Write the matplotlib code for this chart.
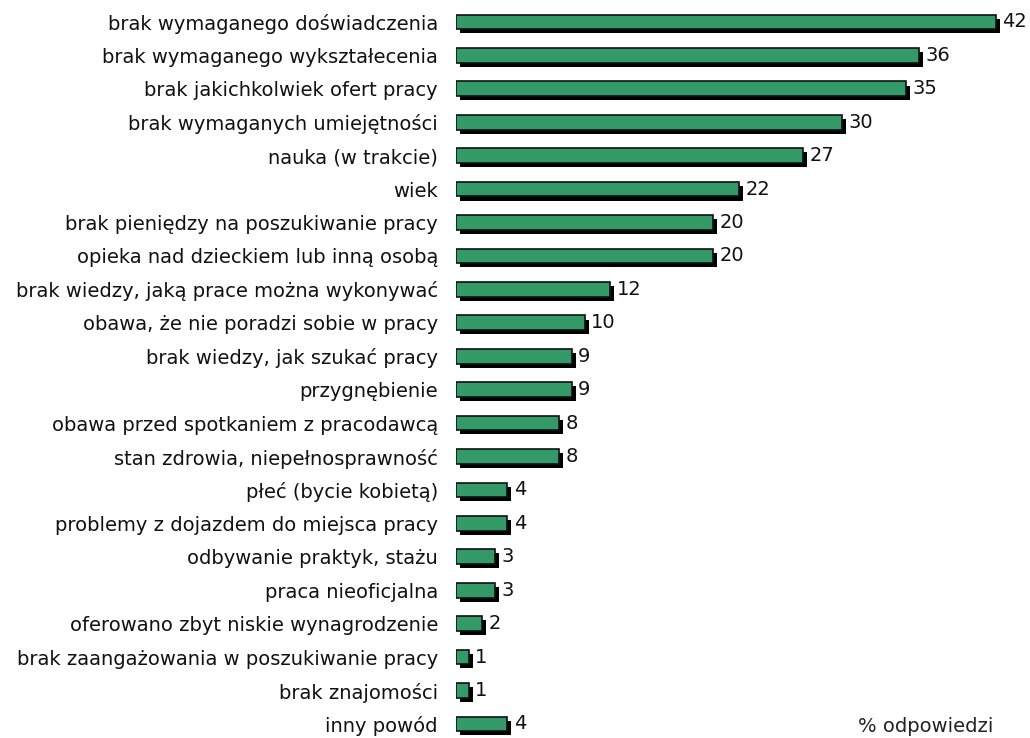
import matplotlib
matplotlib.use("Agg")
import matplotlib.pyplot as plt
import matplotlib.patheffects as pe

# reasons and share of answers (%)
reasons = [
    "brak wymaganego doświadczenia",
    "brak wymaganego wykształecenia",
    "brak jakichkolwiek ofert pracy",
    "brak wymaganych umiejętności",
    "nauka (w trakcie)",
    "wiek",
    "brak pieniędzy na poszukiwanie pracy",
    "opieka nad dzieckiem lub inną osobą",
    "brak wiedzy, jaką prace można wykonywać",
    "obawa, że nie poradzi sobie w pracy",
    "brak wiedzy, jak szukać pracy",
    "przygnębienie",
    "obawa przed spotkaniem z pracodawcą",
    "stan zdrowia, niepełnosprawność",
    "płeć (bycie kobietą)",
    "problemy z dojazdem do miejsca pracy",
    "odbywanie praktyk, stażu",
    "praca nieoficjalna",
    "oferowano zbyt niskie wynagrodzenie",
    "brak zaangażowania w poszukiwanie pracy",
    "brak znajomości",
    "inny powód",
]
values = [42, 36, 35, 30, 27, 22, 20, 20, 12, 10, 9, 9, 8, 8, 4, 4, 3, 3, 2, 1, 1, 4]

plt.rcParams['font.family'] = ['DejaVu Sans']
FS = 14

fig = plt.figure(figsize=(10.30, 7.38), dpi=100)
ax = fig.add_axes([456 / 1030, 0, (1020 - 456) / 1030, 1])

pos = list(range(len(reasons)))
bars = ax.barh(pos, values, height=0.44, color='#339966', edgecolor='#111111', linewidth=1.2)
for b in bars:
    b.set_path_effects([pe.SimplePatchShadow(offset=(2.9, -2.9), shadow_rgbFace='black', alpha=1.0),
                        pe.Normal()])

for p, v in zip(pos, values):
    ax.text(v + 0.5, p, str(v), va='center', ha='left', fontsize=FS, color='#111111')

ax.set_xlim(0, 564 / 12.86)
ax.set_ylim(21.42, -0.658)
ax.set_yticks(pos)
ax.set_yticklabels(reasons, fontsize=FS, color='#111111')
ax.tick_params(axis='y', length=0, pad=13)
ax.set_xticks([])
for s in ax.spines.values():
    s.set_visible(False)

fig.text(858 / 1030, 1 - 727 / 738, "% odpowiedzi", fontsize=FS, color='#222222',
         va='center', ha='left')

fig.savefig("out.png", dpi=100)
